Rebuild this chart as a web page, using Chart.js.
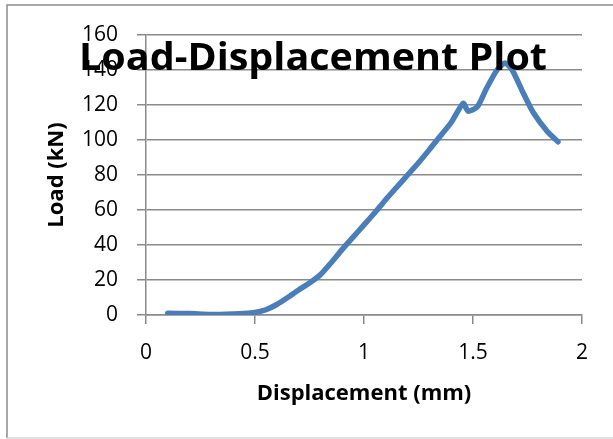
<!DOCTYPE html>
<html>
<head>
<meta charset="utf-8">
<script src="https://cdn.jsdelivr.net/npm/chart.js@4.4.1/dist/chart.umd.min.js"></script>
<style>
  html, body { margin: 0; padding: 0; background: #ffffff; }
  #wrap { width: 613px; height: 439px; position: relative; }
</style>
</head>
<body>
<div id="wrap"><canvas id="c" width="613" height="439"></canvas></div>
<script>
const chartTitle = "Load-Displacement Plot";
const xAxisTitle = "Displacement (mm)";
const yAxisTitle = "Load (kN)";
const displacement = [0.10,0.20,0.30,0.40,0.45,0.50,0.55,0.60,0.65,0.70,0.75,0.80,0.85,0.90,0.95,1.00,1.06,1.10,1.15,1.20,1.25,1.30,1.335,1.40,1.455,1.477,1.52,1.56,1.61,1.647,1.68,1.73,1.775,1.84,1.89];
const load = [1,0.8,0.3,0.6,0.9,1.5,3,6,10,14.3,18.3,23,30,37.5,44.5,51.5,60,66,73,80,87,94.5,100,110,121,116.5,119,129,140,144,140,127,116,105,99];
const xTicks = [0, 0.5, 1, 1.5, 2];
const yTicks = [0, 20, 40, 60, 80, 100, 120, 140, 160];

const points = displacement.map((x, i) => ({ x: x, y: load[i] }));
const gridColor = '#8a8a8a';

const frame = {
  id: 'frame',
  beforeDraw(chart) {
    const ctx = chart.ctx;
    ctx.save();
    ctx.fillStyle = '#ffffff';
    ctx.fillRect(0, 0, chart.width, chart.height);
    ctx.strokeStyle = '#8c8c8c';
    ctx.lineWidth = 1.5;
    ctx.beginPath();
    ctx.moveTo(7, 438);
    ctx.lineTo(7, 5);
    ctx.lineTo(620, 5);
    ctx.stroke();
    ctx.strokeStyle = '#d4d4d4';
    ctx.beginPath();
    ctx.moveTo(7, 438);
    ctx.lineTo(620, 438);
    ctx.stroke();
    ctx.restore();
  }
};

const overlayTitle = {
  id: 'overlayTitle',
  afterDraw(chart) {
    const ctx = chart.ctx;
    ctx.save();
    ctx.font = 'bold 38px "Open Sans"';
    ctx.fillStyle = '#000000';
    ctx.textBaseline = 'alphabetic';
    ctx.textAlign = 'left';
    const w = ctx.measureText(chartTitle).width;
    const target = 468;
    const sx = target / w;
    ctx.translate(79, 70);
    ctx.scale(sx, 1);
    ctx.fillText(chartTitle, 0, 0);
    ctx.restore();
  }
};

new Chart(document.getElementById('c'), {
  type: 'scatter',
  data: {
    datasets: [{
      data: points,
      showLine: true,
      borderColor: '#4a7ebb',
      backgroundColor: '#4a7ebb',
      borderWidth: 5.5,
      pointRadius: 0,
      pointHoverRadius: 0,
      tension: 0.2,
      borderCapStyle: 'round',
      borderJoinStyle: 'round'
    }]
  },
  options: {
    responsive: false,
    animation: false,
    events: [],
    layout: { padding: { left: 0, right: 31, top: 35, bottom: 0 } },
    plugins: {
      legend: { display: false },
      title: { display: false },
      tooltip: { enabled: false }
    },
    scales: {
      x: {
        type: 'linear',
        min: 0,
        max: 2,
        afterBuildTicks(scale) { scale.ticks = xTicks.map(v => ({ value: v })); },
        afterFit(scale) { scale.height = 124; },
        border: { display: true, color: gridColor, width: 1.5 },
        grid: { drawOnChartArea: false, drawTicks: true, tickLength: 9, color: gridColor, lineWidth: 1.5 },
        ticks: {
          color: '#000000',
          font: { family: '"Open Sans"', size: 21 },
          padding: 16,
          maxRotation: 0,
          callback: (v) => String(v)
        },
        title: {
          display: true,
          text: xAxisTitle,
          color: '#000000',
          font: { family: '"Open Sans"', size: 22, weight: 'bold' },
          padding: { top: 0, bottom: 32 }
        }
      },
      y: {
        type: 'linear',
        min: 0,
        max: 160,
        afterBuildTicks(scale) { scale.ticks = yTicks.map(v => ({ value: v })); },
        afterFit(scale) { scale.width = 146; },
        border: { display: true, color: gridColor, width: 1.5 },
        grid: { drawOnChartArea: true, drawTicks: true, tickLength: 9, color: gridColor, lineWidth: 1.5 },
        ticks: {
          color: '#000000',
          font: { family: '"Open Sans"', size: 21 },
          padding: 19,
          callback: (v) => String(v)
        },
        title: {
          display: true,
          text: yAxisTitle,
          color: '#000000',
          font: { family: '"Open Sans"', size: 22, weight: 'bold' },
          padding: { top: 44, bottom: 0 }
        }
      }
    }
  },
  plugins: [frame, overlayTitle]
});
</script>
</body>
</html>
